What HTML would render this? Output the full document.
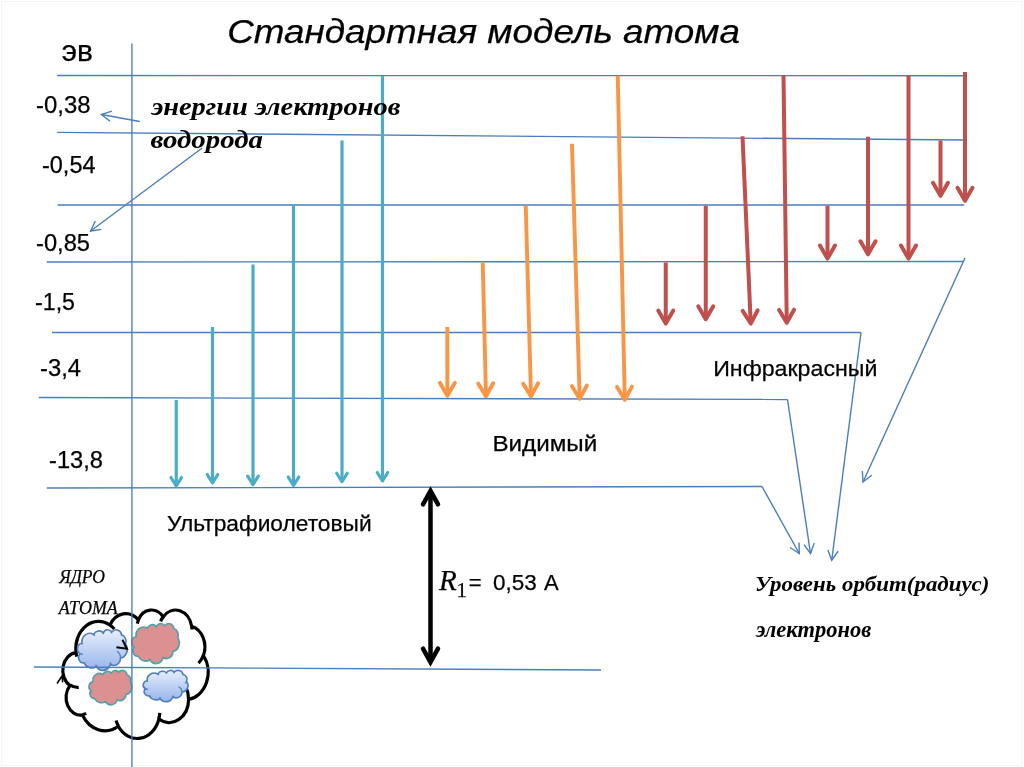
<!DOCTYPE html>
<html><head><meta charset="utf-8"><style>html,body{margin:0;padding:0;background:#fff;width:1024px;height:767px;overflow:hidden}svg{display:block;will-change:transform}</style></head><body><svg width="1024" height="767" viewBox="0 0 1024 767"><defs><linearGradient id="gb" x1="0" y1="0" x2="0" y2="1"><stop offset="0" stop-color="#e8eefb"/><stop offset="1" stop-color="#96b4ec"/></linearGradient></defs><rect width="1024" height="767" fill="#fff"/><path d="M76.01 652.31 A22.70 27.31 0 0 1 109.97 625.06 A17.92 21.60 0 0 1 138.38 619.80 A14.67 17.67 0 0 1 163.17 616.97 A16.32 19.60 0 0 1 191.69 626.17 A17.92 21.62 0 0 1 203.46 655.55 A22.77 27.40 0 0 1 188.62 699.37 A19.44 23.38 0 0 1 158.88 719.02 A22.69 27.39 0 0 1 118.29 726.30 A25.95 31.34 0 0 1 82.41 715.02 A14.65 17.59 0 0 1 70.00 685.54 A14.60 17.67 0 0 1 75.89 652.71Z" fill="none" stroke="#000" stroke-width="3.2"/><path d="M78.67 687.40 A14.60 17.67 0 0 1 70.16 685.03 M86.19 713.33 A14.65 17.59 0 0 1 82.46 714.46 M118.28 725.78 A22.69 27.39 0 0 1 116.04 720.61 M159.79 712.89 A22.69 27.39 0 0 1 158.89 718.56 M177.61 677.82 A19.44 23.38 0 0 1 188.54 699.03 M203.39 655.24 A17.92 21.62 0 0 1 198.52 663.19 M191.71 625.73 A16.32 19.60 0 0 1 191.97 629.48 M160.63 621.35 A16.32 19.60 0 0 1 163.13 616.56 M137.32 623.63 A14.67 17.67 0 0 1 138.53 619.50 M109.96 625.03 A22.70 27.31 0 0 1 114.32 629.04 M76.77 656.53 A22.70 27.31 0 0 1 76.01 652.31 " fill="none" stroke="#000" stroke-width="3.2"/><path d="M81.99 643.14 A7.77 8.66 0 0 1 93.61 634.50 A6.14 6.85 0 0 1 103.33 632.83 A5.02 5.60 0 0 1 111.82 631.94 A5.59 6.21 0 0 1 121.58 634.85 A6.14 6.85 0 0 1 125.61 644.17 A7.79 8.69 0 0 1 120.53 658.06 A6.66 7.41 0 0 1 110.35 664.28 A7.77 8.68 0 0 1 96.46 666.59 A8.88 9.93 0 0 1 84.18 663.02 A5.02 5.58 0 0 1 79.93 653.67 A5.00 5.60 0 0 1 81.94 643.27Z" fill="url(#gb)" stroke="#4d7fbc" stroke-width="1.6"/><path d="M82.90 654.26 A5.00 5.60 0 0 1 79.98 653.51 M85.47 662.48 A5.02 5.58 0 0 1 84.20 662.84 M96.46 666.43 A7.77 8.68 0 0 1 95.69 664.79 M110.66 662.34 A7.77 8.68 0 0 1 110.36 664.14 M116.76 651.23 A6.66 7.41 0 0 1 120.50 657.95 M125.59 644.07 A6.14 6.85 0 0 1 123.92 646.59 M121.59 634.71 A5.59 6.21 0 0 1 121.68 635.90 M110.95 633.32 A5.59 6.21 0 0 1 111.81 631.81 M102.97 634.05 A5.02 5.60 0 0 1 103.39 632.74 M93.61 634.49 A7.77 8.66 0 0 1 95.10 635.76 M82.25 644.48 A7.77 8.66 0 0 1 81.99 643.14 " fill="none" stroke="#4d7fbc" stroke-width="1.3"/><path d="M136.09 636.71 A7.43 8.51 0 0 1 147.20 628.22 A5.86 6.73 0 0 1 156.49 626.58 A4.80 5.50 0 0 1 164.60 625.70 A5.34 6.11 0 0 1 173.93 628.56 A5.86 6.73 0 0 1 177.78 637.71 A7.45 8.54 0 0 1 172.93 651.37 A6.36 7.28 0 0 1 163.20 657.49 A7.42 8.53 0 0 1 149.92 659.76 A8.49 9.76 0 0 1 138.18 656.24 A4.79 5.48 0 0 1 134.12 647.06 A4.78 5.50 0 0 1 136.05 636.83Z" fill="#DB9190" stroke="#52a0aa" stroke-width="1.6"/><path d="M92.86 681.74 A6.69 7.32 0 0 1 102.88 674.44 A5.28 5.79 0 0 1 111.25 673.03 A4.32 4.73 0 0 1 118.56 672.28 A4.81 5.25 0 0 1 126.96 674.74 A5.28 5.79 0 0 1 130.43 682.61 A6.71 7.34 0 0 1 126.06 694.35 A5.73 6.26 0 0 1 117.29 699.61 A6.69 7.34 0 0 1 105.33 701.57 A7.65 8.40 0 0 1 94.75 698.54 A4.32 4.71 0 0 1 91.09 690.64 A4.30 4.73 0 0 1 92.83 681.85Z" fill="#DB9190" stroke="#52a0aa" stroke-width="1.6"/><path d="M147.24 680.71 A7.00 6.66 0 0 1 157.72 674.07 A5.53 5.27 0 0 1 166.49 672.79 A4.53 4.31 0 0 1 174.14 672.10 A5.04 4.78 0 0 1 182.94 674.34 A5.53 5.27 0 0 1 186.57 681.50 A7.03 6.68 0 0 1 181.99 692.18 A6.00 5.70 0 0 1 172.81 696.97 A7.00 6.68 0 0 1 160.29 698.75 A8.01 7.64 0 0 1 149.22 696.00 A4.52 4.29 0 0 1 145.39 688.81 A4.51 4.31 0 0 1 147.21 680.81Z" fill="url(#gb)" stroke="#4d7fbc" stroke-width="1.6"/><path d="M148.07 689.27 A4.51 4.31 0 0 1 145.44 688.69 M150.38 695.59 A4.52 4.29 0 0 1 149.24 695.86 M160.29 698.62 A7.00 6.68 0 0 1 159.60 697.36 M173.09 695.48 A7.00 6.68 0 0 1 172.82 696.86 M178.59 686.93 A6.00 5.70 0 0 1 181.96 692.10 M186.55 681.42 A5.53 5.27 0 0 1 185.04 683.36 M182.94 674.23 A5.04 4.78 0 0 1 183.02 675.15 M173.35 673.16 A5.04 4.78 0 0 1 174.12 672.00 M166.16 673.72 A4.53 4.31 0 0 1 166.53 672.71 M157.72 674.06 A7.00 6.66 0 0 1 159.07 675.04 M147.48 681.74 A7.00 6.66 0 0 1 147.24 680.71 " fill="none" stroke="#4d7fbc" stroke-width="1.3"/><polyline points="116.4,647.2 127,648.7 122.4,639.8" fill="none" stroke="#000" stroke-width="1.9"/><polyline points="57.1,683.5 62.1,675.8 62.6,682.4" fill="none" stroke="#000" stroke-width="1.5"/><rect x="1.5" y="1.5" width="1020" height="764" fill="none" stroke="#f4f4f4" stroke-width="1"/><line x1="131.9" y1="43.6" x2="131.9" y2="767" stroke="#4A7DBB" stroke-width="1.35"/><line x1="57.2" y1="75.5" x2="963" y2="75.75" stroke="#4A7DBB" stroke-width="1.35"/><line x1="57.2" y1="132.3" x2="963" y2="140" stroke="#4A7DBB" stroke-width="1.35"/><line x1="57.5" y1="205" x2="964.25" y2="205" stroke="#4A7DBB" stroke-width="1.35"/><line x1="46.75" y1="262" x2="963" y2="261.5" stroke="#4A7DBB" stroke-width="1.35"/><line x1="52" y1="332.5" x2="861" y2="332.5" stroke="#4A7DBB" stroke-width="1.35"/><line x1="38.75" y1="397.5" x2="787.5" y2="399.5" stroke="#4A7DBB" stroke-width="1.35"/><line x1="46.75" y1="488" x2="762" y2="486.5" stroke="#4A7DBB" stroke-width="1.35"/><line x1="34" y1="667" x2="601" y2="670" stroke="#4A7DBB" stroke-width="1.35"/><polyline points="965.00,258.00 863.00,482.00" fill="none" stroke="#4A7DBB" stroke-width="1.4" stroke-linecap="butt" stroke-linejoin="miter"/><polyline points="871.72,475.30 863.00,482.00 862.33,471.02" fill="none" stroke="#4A7DBB" stroke-width="1.4" stroke-linecap="butt" stroke-linejoin="miter"/><polyline points="861.00,332.50 831.75,560.25" fill="none" stroke="#4A7DBB" stroke-width="1.4" stroke-linecap="butt" stroke-linejoin="miter"/><polyline points="838.11,551.27 831.75,560.25 827.87,549.96" fill="none" stroke="#4A7DBB" stroke-width="1.4" stroke-linecap="butt" stroke-linejoin="miter"/><polyline points="787.50,399.50 810.50,553.50" fill="none" stroke="#4A7DBB" stroke-width="1.4" stroke-linecap="butt" stroke-linejoin="miter"/><polyline points="814.17,543.13 810.50,553.50 803.96,544.66" fill="none" stroke="#4A7DBB" stroke-width="1.4" stroke-linecap="butt" stroke-linejoin="miter"/><polyline points="762.00,486.50 799.25,553.50" fill="none" stroke="#4A7DBB" stroke-width="1.4" stroke-linecap="butt" stroke-linejoin="miter"/><polyline points="799.04,542.50 799.25,553.50 790.02,547.52" fill="none" stroke="#4A7DBB" stroke-width="1.4" stroke-linecap="butt" stroke-linejoin="miter"/><polyline points="139.80,121.50 101.40,114.50" fill="none" stroke="#4A7DBB" stroke-width="1.4" stroke-linecap="butt" stroke-linejoin="miter"/><polyline points="110.03,121.32 101.40,114.50 111.88,111.16" fill="none" stroke="#4A7DBB" stroke-width="1.4" stroke-linecap="butt" stroke-linejoin="miter"/><polyline points="202.20,148.00 90.60,231.00" fill="none" stroke="#4A7DBB" stroke-width="1.4" stroke-linecap="butt" stroke-linejoin="miter"/><polyline points="101.48,229.35 90.60,231.00 95.31,221.06" fill="none" stroke="#4A7DBB" stroke-width="1.4" stroke-linecap="butt" stroke-linejoin="miter"/><polyline points="176.25,400.00 176.25,484.40" fill="none" stroke="#4BACC6" stroke-width="3.2" stroke-linecap="butt" stroke-linejoin="miter"/><polyline points="181.55,477.52 176.25,486.00 170.95,477.52" fill="none" stroke="#4BACC6" stroke-width="3.2" stroke-linecap="round" stroke-linejoin="round"/><polyline points="212.50,327.00 212.50,481.40" fill="none" stroke="#4BACC6" stroke-width="3.2" stroke-linecap="butt" stroke-linejoin="miter"/><polyline points="217.80,474.52 212.50,483.00 207.20,474.52" fill="none" stroke="#4BACC6" stroke-width="3.2" stroke-linecap="round" stroke-linejoin="round"/><polyline points="253.00,264.50 253.00,483.00" fill="none" stroke="#4BACC6" stroke-width="3.2" stroke-linecap="butt" stroke-linejoin="miter"/><polyline points="258.30,476.12 253.00,484.60 247.70,476.12" fill="none" stroke="#4BACC6" stroke-width="3.2" stroke-linecap="round" stroke-linejoin="round"/><polyline points="293.50,205.50 293.50,483.90" fill="none" stroke="#4BACC6" stroke-width="3.2" stroke-linecap="butt" stroke-linejoin="miter"/><polyline points="298.80,477.02 293.50,485.50 288.20,477.02" fill="none" stroke="#4BACC6" stroke-width="3.2" stroke-linecap="round" stroke-linejoin="round"/><polyline points="342.00,140.60 342.00,480.15" fill="none" stroke="#4BACC6" stroke-width="3.2" stroke-linecap="butt" stroke-linejoin="miter"/><polyline points="347.30,473.27 342.00,481.75 336.70,473.27" fill="none" stroke="#4BACC6" stroke-width="3.2" stroke-linecap="round" stroke-linejoin="round"/><polyline points="382.50,76.00 382.50,479.40" fill="none" stroke="#4BACC6" stroke-width="3.2" stroke-linecap="butt" stroke-linejoin="miter"/><polyline points="387.80,472.52 382.50,481.00 377.20,472.52" fill="none" stroke="#4BACC6" stroke-width="3.2" stroke-linecap="round" stroke-linejoin="round"/><polyline points="447.30,327.00 447.40,393.85" fill="none" stroke="#F79646" stroke-width="3.9" stroke-linecap="butt" stroke-linejoin="miter"/><polyline points="454.88,382.80 447.40,395.80 439.88,382.82" fill="none" stroke="#F79646" stroke-width="3.9" stroke-linecap="round" stroke-linejoin="round"/><polyline points="482.75,262.50 485.95,394.45" fill="none" stroke="#F79646" stroke-width="3.9" stroke-linecap="butt" stroke-linejoin="miter"/><polyline points="493.18,383.23 486.00,396.40 478.19,383.60" fill="none" stroke="#F79646" stroke-width="3.9" stroke-linecap="round" stroke-linejoin="round"/><polyline points="525.75,205.75 530.95,394.45" fill="none" stroke="#F79646" stroke-width="3.9" stroke-linecap="butt" stroke-linejoin="miter"/><polyline points="538.14,383.21 531.00,396.40 523.15,383.62" fill="none" stroke="#F79646" stroke-width="3.9" stroke-linecap="round" stroke-linejoin="round"/><polyline points="572.00,143.75 579.64,396.85" fill="none" stroke="#F79646" stroke-width="3.9" stroke-linecap="butt" stroke-linejoin="miter"/><polyline points="586.80,385.59 579.70,398.80 571.81,386.04" fill="none" stroke="#F79646" stroke-width="3.9" stroke-linecap="round" stroke-linejoin="round"/><polyline points="617.75,75.75 624.76,397.85" fill="none" stroke="#F79646" stroke-width="3.9" stroke-linecap="butt" stroke-linejoin="miter"/><polyline points="632.02,386.65 624.80,399.80 617.02,386.98" fill="none" stroke="#F79646" stroke-width="3.9" stroke-linecap="round" stroke-linejoin="round"/><polyline points="665.75,262.50 665.75,321.55" fill="none" stroke="#C0504D" stroke-width="4.0" stroke-linecap="butt" stroke-linejoin="miter"/><polyline points="673.25,310.56 665.75,323.55 658.25,310.56" fill="none" stroke="#C0504D" stroke-width="4.0" stroke-linecap="round" stroke-linejoin="round"/><polyline points="705.75,205.75 705.75,317.30" fill="none" stroke="#C0504D" stroke-width="4.0" stroke-linecap="butt" stroke-linejoin="miter"/><polyline points="713.25,306.31 705.75,319.30 698.25,306.31" fill="none" stroke="#C0504D" stroke-width="4.0" stroke-linecap="round" stroke-linejoin="round"/><polyline points="742.50,136.25 750.66,321.55" fill="none" stroke="#C0504D" stroke-width="4.0" stroke-linecap="butt" stroke-linejoin="miter"/><polyline points="757.67,310.24 750.75,323.55 742.69,310.90" fill="none" stroke="#C0504D" stroke-width="4.0" stroke-linecap="round" stroke-linejoin="round"/><polyline points="783.50,75.75 786.72,320.80" fill="none" stroke="#C0504D" stroke-width="4.0" stroke-linecap="butt" stroke-linejoin="miter"/><polyline points="794.08,309.71 786.75,322.80 779.08,309.91" fill="none" stroke="#C0504D" stroke-width="4.0" stroke-linecap="round" stroke-linejoin="round"/><polyline points="827.50,205.75 827.50,256.55" fill="none" stroke="#C0504D" stroke-width="4.0" stroke-linecap="butt" stroke-linejoin="miter"/><polyline points="835.00,245.56 827.50,258.55 820.00,245.56" fill="none" stroke="#C0504D" stroke-width="4.0" stroke-linecap="round" stroke-linejoin="round"/><polyline points="868.00,136.75 868.00,252.30" fill="none" stroke="#C0504D" stroke-width="4.0" stroke-linecap="butt" stroke-linejoin="miter"/><polyline points="875.50,241.31 868.00,254.30 860.50,241.31" fill="none" stroke="#C0504D" stroke-width="4.0" stroke-linecap="round" stroke-linejoin="round"/><polyline points="908.50,75.75 908.50,256.55" fill="none" stroke="#C0504D" stroke-width="4.0" stroke-linecap="butt" stroke-linejoin="miter"/><polyline points="916.00,245.56 908.50,258.55 901.00,245.56" fill="none" stroke="#C0504D" stroke-width="4.0" stroke-linecap="round" stroke-linejoin="round"/><polyline points="940.50,140.50 940.50,193.80" fill="none" stroke="#C0504D" stroke-width="4.0" stroke-linecap="butt" stroke-linejoin="miter"/><polyline points="948.00,182.81 940.50,195.80 933.00,182.81" fill="none" stroke="#C0504D" stroke-width="4.0" stroke-linecap="round" stroke-linejoin="round"/><polyline points="965.00,72.00 965.00,198.80" fill="none" stroke="#C0504D" stroke-width="4.0" stroke-linecap="butt" stroke-linejoin="miter"/><polyline points="972.50,187.81 965.00,200.80 957.50,187.81" fill="none" stroke="#C0504D" stroke-width="4.0" stroke-linecap="round" stroke-linejoin="round"/><polyline points="430.50,491.00 430.50,662.00" fill="none" stroke="#000" stroke-width="4.5" stroke-linecap="butt" stroke-linejoin="miter"/><polyline points="422.99,504.36 430.50,490.80 438.01,504.36" fill="none" stroke="#000" stroke-width="4.5" stroke-linecap="round" stroke-linejoin="miter"/><polyline points="438.01,648.64 430.50,662.20 422.99,648.64" fill="none" stroke="#000" stroke-width="4.5" stroke-linecap="round" stroke-linejoin="miter"/><text x="227.2" y="43" font-family="&quot;Liberation Sans&quot;, sans-serif" font-size="33" font-style="italic" font-weight="normal" fill="#000" textLength="512.75" lengthAdjust="spacingAndGlyphs" stroke="#000" stroke-width="0.25">Стандартная модель атома</text><text x="61.8" y="61.3" font-family="&quot;Liberation Sans&quot;, sans-serif" font-size="30" font-style="normal" font-weight="normal" fill="#000" textLength="31.2" lengthAdjust="spacingAndGlyphs" stroke="#000" stroke-width="0.25">эв</text><text x="36.0" y="112.9" font-family="&quot;Liberation Sans&quot;, sans-serif" font-size="23.3" font-style="normal" font-weight="normal" fill="#000" textLength="54.5" lengthAdjust="spacingAndGlyphs" stroke="#000" stroke-width="0.25">-0,38</text><text x="42.0" y="173" font-family="&quot;Liberation Sans&quot;, sans-serif" font-size="23.3" font-style="normal" font-weight="normal" fill="#000" textLength="53.5" lengthAdjust="spacingAndGlyphs" stroke="#000" stroke-width="0.25">-0,54</text><text x="36.0" y="250.75" font-family="&quot;Liberation Sans&quot;, sans-serif" font-size="23.3" font-style="normal" font-weight="normal" fill="#000" textLength="54.0" lengthAdjust="spacingAndGlyphs" stroke="#000" stroke-width="0.25">-0,85</text><text x="35.0" y="309.5" font-family="&quot;Liberation Sans&quot;, sans-serif" font-size="23.3" font-style="normal" font-weight="normal" fill="#000" textLength="40.0" lengthAdjust="spacingAndGlyphs" stroke="#000" stroke-width="0.25">-1,5</text><text x="40.0" y="376" font-family="&quot;Liberation Sans&quot;, sans-serif" font-size="23.3" font-style="normal" font-weight="normal" fill="#000" textLength="41.0" lengthAdjust="spacingAndGlyphs" stroke="#000" stroke-width="0.25">-3,4</text><text x="49.0" y="467.75" font-family="&quot;Liberation Sans&quot;, sans-serif" font-size="23.3" font-style="normal" font-weight="normal" fill="#000" textLength="54.0" lengthAdjust="spacingAndGlyphs" stroke="#000" stroke-width="0.25">-13,8</text><text x="167.0" y="530.8" font-family="&quot;Liberation Sans&quot;, sans-serif" font-size="22" font-style="normal" font-weight="normal" fill="#000" textLength="204.6" lengthAdjust="spacingAndGlyphs" stroke="#000" stroke-width="0.25">Ультрафиолетовый</text><text x="492.4" y="451.4" font-family="&quot;Liberation Sans&quot;, sans-serif" font-size="22" font-style="normal" font-weight="normal" fill="#000" textLength="104.8" lengthAdjust="spacingAndGlyphs" stroke="#000" stroke-width="0.25">Видимый</text><text x="713.2" y="375.5" font-family="&quot;Liberation Sans&quot;, sans-serif" font-size="22" font-style="normal" font-weight="normal" fill="#000" textLength="164.2" lengthAdjust="spacingAndGlyphs" stroke="#000" stroke-width="0.25">Инфракрасный</text><text x="151.4" y="114.9" font-family="&quot;Liberation Serif&quot;, serif" font-size="26" font-style="italic" font-weight="bold" fill="#000" textLength="249.0" lengthAdjust="spacingAndGlyphs" >энергии электронов</text><text x="150.4" y="148" font-family="&quot;Liberation Serif&quot;, serif" font-size="26" font-style="italic" font-weight="bold" fill="#000" textLength="112.6" lengthAdjust="spacingAndGlyphs" >водорода</text><text x="755.0" y="591.25" font-family="&quot;Liberation Serif&quot;, serif" font-size="22" font-style="italic" font-weight="bold" fill="#000" textLength="234.4" lengthAdjust="spacingAndGlyphs" >Уровень орбит(радиус)</text><text x="756.0" y="636.6" font-family="&quot;Liberation Serif&quot;, serif" font-size="22.5" font-style="italic" font-weight="bold" fill="#000" textLength="115.2" lengthAdjust="spacingAndGlyphs" >электронов</text><text x="59.2" y="583.3" font-family="&quot;Liberation Serif&quot;, serif" font-size="18" font-style="italic" font-weight="normal" fill="#000" textLength="45.8" lengthAdjust="spacingAndGlyphs" stroke="#000" stroke-width="0.25">ЯДРО</text><text x="58.8" y="614" font-family="&quot;Liberation Serif&quot;, serif" font-size="18" font-style="italic" font-weight="normal" fill="#000" textLength="59.0" lengthAdjust="spacingAndGlyphs" stroke="#000" stroke-width="0.25">АТОМА</text><text x="493.0" y="589.8" font-family="&quot;Liberation Sans&quot;, sans-serif" font-size="22" font-style="normal" font-weight="normal" fill="#000" textLength="43.7" lengthAdjust="spacingAndGlyphs" stroke="#000" stroke-width="0.25">0,53</text><text x="544.0" y="589.8" font-family="&quot;Liberation Sans&quot;, sans-serif" font-size="22" font-style="normal" font-weight="normal" fill="#000" stroke="#000" stroke-width="0.25">A</text><text x="439.0" y="589.8" font-family="&quot;Liberation Serif&quot;, serif" font-size="29" font-style="italic" font-weight="normal" fill="#000" stroke="#000" stroke-width="0.25">R</text><text x="456.6" y="596.6" font-family="&quot;Liberation Serif&quot;, serif" font-size="21" font-style="normal" font-weight="normal" fill="#000" stroke="#000" stroke-width="0.25">1</text><text x="468.75" y="589.8" font-family="&quot;Liberation Sans&quot;, sans-serif" font-size="22" font-style="normal" font-weight="normal" fill="#000" stroke="#000" stroke-width="0.25">=</text></svg></body></html>
